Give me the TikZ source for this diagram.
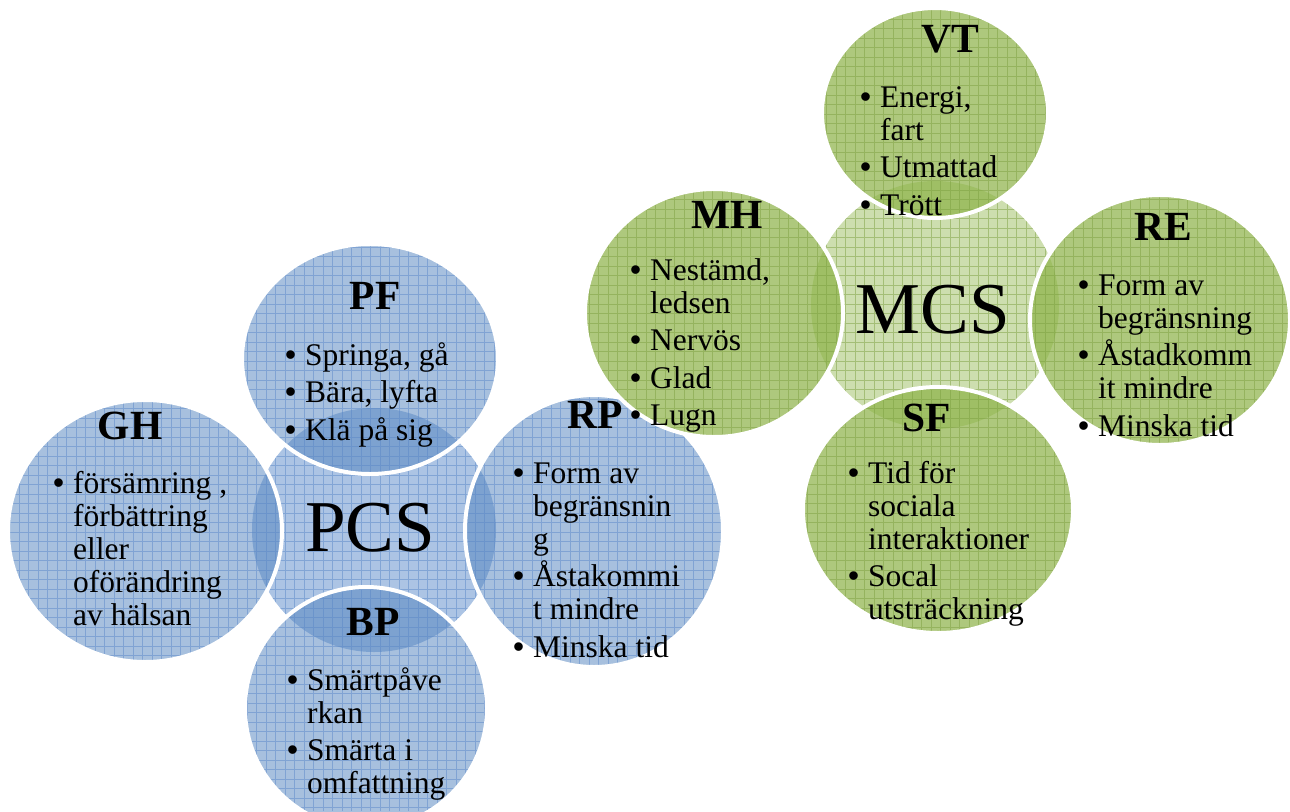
\documentclass[tikz,border=0pt]{standalone}
\usepackage{fontspec}
\setmainfont{Liberation Serif}
\newfontfamily\bulletfont{Liberation Sans}
\definecolor{pcshub}{RGB}{172,196,228}
\definecolor{pcsring}{RGB}{79,129,189}
\definecolor{pcsgrid}{RGB}{90,135,200}
\definecolor{mcshub}{RGB}{205,222,175}
\definecolor{mcsring}{RGB}{140,178,70}
\definecolor{mcsgrid}{RGB}{125,160,65}
\newcommand{\bl}{\makebox[20pt][l]{\bulletfont •}}
\newcommand{\ind}{\hspace*{20pt}}
% rings: centre x / centre y / x radius / y radius
\newcommand{\pcsrings}{370/359/128pt/115pt,145/531/137pt/131pt,594/531/129pt/136pt,366/708/121pt/121pt}
\newcommand{\mcsrings}{935/113/113pt/105pt,714/313/129pt/124pt,1160/320/130pt/125pt,938/510/135pt/123pt}
\begin{document}
\begin{tikzpicture}[x=1pt,y=-1pt,
    every node/.style={inner sep=0pt},
    hub/.style={font=\fontsize{73}{80}\selectfont},
    head/.style={font=\fontsize{41.5}{46}\selectfont\bfseries},
    list/.style={anchor=north west,align=left,font=\fontsize{31.5}{33}\selectfont},
    rim/.style={draw=white,line width=4pt},
    gridlines/.style={line width=0.7pt,draw opacity=0.5}]
\useasboundingbox (0,0) rectangle (1290,811);

% PCS
\fill[pcshub] (374,530) circle[radius=122pt];
\foreach \cx/\cy/\rx/\ry in \pcsrings
    \fill[pcsring,fill opacity=0.5] (\cx,\cy) ellipse[x radius=\rx,y radius=\ry];
\begin{scope}
    \clip (374,530) circle[radius=122pt]
        \foreach \cx/\cy/\rx/\ry in \pcsrings {(\cx,\cy) ellipse[x radius=\rx,y radius=\ry]};
    \draw[gridlines,pcsgrid,step=9.5pt] (0,811) grid (760,0);
\end{scope}
\foreach \cx/\cy/\rx/\ry in \pcsrings
    \draw[rim] (\cx,\cy) ellipse[x radius=\rx,y radius=\ry];

% MCS
\fill[white] (935,305) circle[radius=124pt]
    \foreach \cx/\cy/\rx/\ry in \mcsrings {(\cx,\cy) ellipse[x radius=\rx,y radius=\ry]};
\fill[mcshub] (935,305) circle[radius=124pt];
\foreach \cx/\cy/\rx/\ry in \mcsrings
    \fill[mcsring,fill opacity=0.7] (\cx,\cy) ellipse[x radius=\rx,y radius=\ry];
\begin{scope}
    \clip (935,305) circle[radius=124pt]
        \foreach \cx/\cy/\rx/\ry in \mcsrings {(\cx,\cy) ellipse[x radius=\rx,y radius=\ry]};
    \draw[gridlines,mcsgrid,step=9.5pt] (560,811) grid (1290,0);
\end{scope}
\foreach \cx/\cy/\rx/\ry in \mcsrings
    \draw[rim] (\cx,\cy) ellipse[x radius=\rx,y radius=\ry];

\node[hub] (pcs) at (370,528) {PCS};
\node[head] (pf) at (375,296) {PF};
\node[list] (pf-list) at (285,342) {\strut\bl Springa, gå\\[4.5pt]\bl Bära, lyfta\\[4.5pt]\bl Klä på sig};
\node[head] (gh) at (130,426) {GH};
\node[list] (gh-list) at (53,470) {\strut\bl försämring ,\\\ind förbättring\\\ind eller\\\ind oförändring\\\ind av hälsan};
\node[head] (rp) at (595,415) {RP};
\node[list] (rp-list) at (513,460) {\strut\bl Form av\\\ind begränsnin\\\ind g\\[4.5pt]\bl Åstakommi\\\ind t mindre\\[4.5pt]\bl Minska tid};
\node[head] (bp) at (373,622) {BP};
\node[list] (bp-list) at (287,667) {\strut\bl Smärtpåve\\\ind rkan\\[4.5pt]\bl Smärta i\\\ind omfattning};

\node[hub] (mcs) at (933,310) {MCS};
\node[head] (vt) at (950,39) {VT};
\node[list] (vt-list) at (860,84) {\strut\bl Energi,\\\ind fart\\[4.5pt]\bl Utmattad\\[4.5pt]\bl Trött};
\node[head] (mh) at (727,215) {MH};
\node[list] (mh-list) at (630,257) {\strut\bl Nestämd,\\\ind ledsen\\[4.5pt]\bl Nervös\\[4.5pt]\bl Glad\\[4.5pt]\bl Lugn};
\node[head] (re) at (1163,227) {RE};
\node[list] (re-list) at (1078,272) {\strut\bl Form av\\\ind begränsning\\[4.5pt]\bl Åstadkomm\\\ind it mindre\\[4.5pt]\bl Minska tid};
\node[head] (sf) at (927,418) {SF};
\node[list] (sf-list) at (848,460) {\strut\bl Tid för\\\ind sociala\\\ind interaktioner\\[4.5pt]\bl Socal\\\ind utsträckning};
\end{tikzpicture}
\end{document}
